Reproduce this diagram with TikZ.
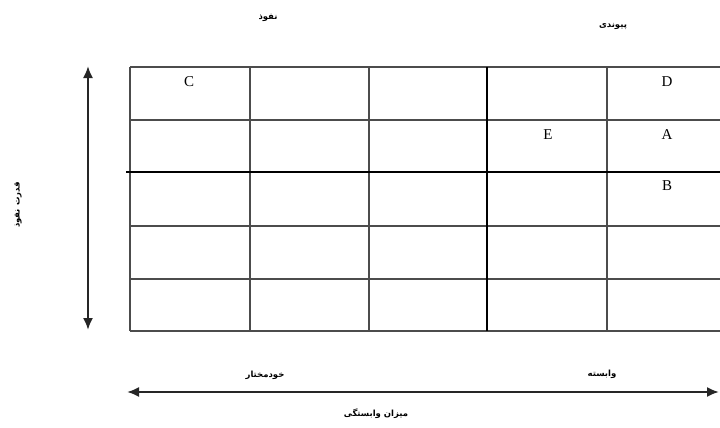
\documentclass[tikz,border=0pt]{standalone}
\usepackage{fontspec}
\setmainfont{Liberation Serif}
\newfontfamily\farsifont[Script=Arabic]{DejaVu Sans}
\TeXXeTstate=1
\usetikzlibrary{arrows.meta}

\begin{document}
\begin{tikzpicture}[x=1pt, y=-1pt,
    gridline/.style={line width=1.2pt, black!70},
    axisline/.style={line width=2pt, black},
    dblarrow/.style={{Latex[length=12pt,width=10pt]}-{Latex[length=12pt,width=10pt]}, line width=2pt, black!85},
    letter/.style={font=\fontsize{15}{15}\selectfont},
    farsi/.style={font=\farsifont\bfseries\fontsize{8.5}{8.5}\selectfont}
    ]

    \useasboundingbox (0,0) rectangle (720,428);

    % grid
    \foreach \y in {67,120,226,279,331} {
        \draw[gridline] (130,\y) -- (724,\y);
    }
    \foreach \x in {130,250,369,607} {
        \draw[gridline] (\x,67) -- (\x,331);
    }
    \draw[axisline] (126,172) -- (724,172);
    \draw[axisline] (487,67) -- (487,331);

    % letters in cells
    \node[letter] (C) at (189,82) {C};
    \node[letter] (D) at (667,82) {D};
    \node[letter] (E) at (548,135) {E};
    \node[letter] (A) at (667,135) {A};
    \node[letter] (B) at (667,186) {B};

    % headings
    \node[farsi] (nofuz) at (268,18) {\beginR نفوذ\endR};
    \node[farsi] (peyvandi) at (613,26) {\beginR پیوندی\endR};
    \node[farsi, rotate=90] (ghodrat) at (18,205) {\beginR قدرت نفوذ\endR};
    \node[farsi] (khodmokhtar) at (265,375) {\beginR خودمختار\endR};
    \node[farsi] (vabaste) at (602,374) {\beginR وابسته\endR};
    \node[farsi] (mizan) at (376,414) {\beginR میزان وابستگی\endR};

    % arrows
    \coordinate (vtop) at (88,66);
    \coordinate (vbot) at (88,330);
    \coordinate (hleft) at (127,392);
    \coordinate (hright) at (719,392);
    \draw[dblarrow] (vbot) -- (vtop);
    \draw[dblarrow] (hleft) -- (hright);

\end{tikzpicture}
\end{document}
